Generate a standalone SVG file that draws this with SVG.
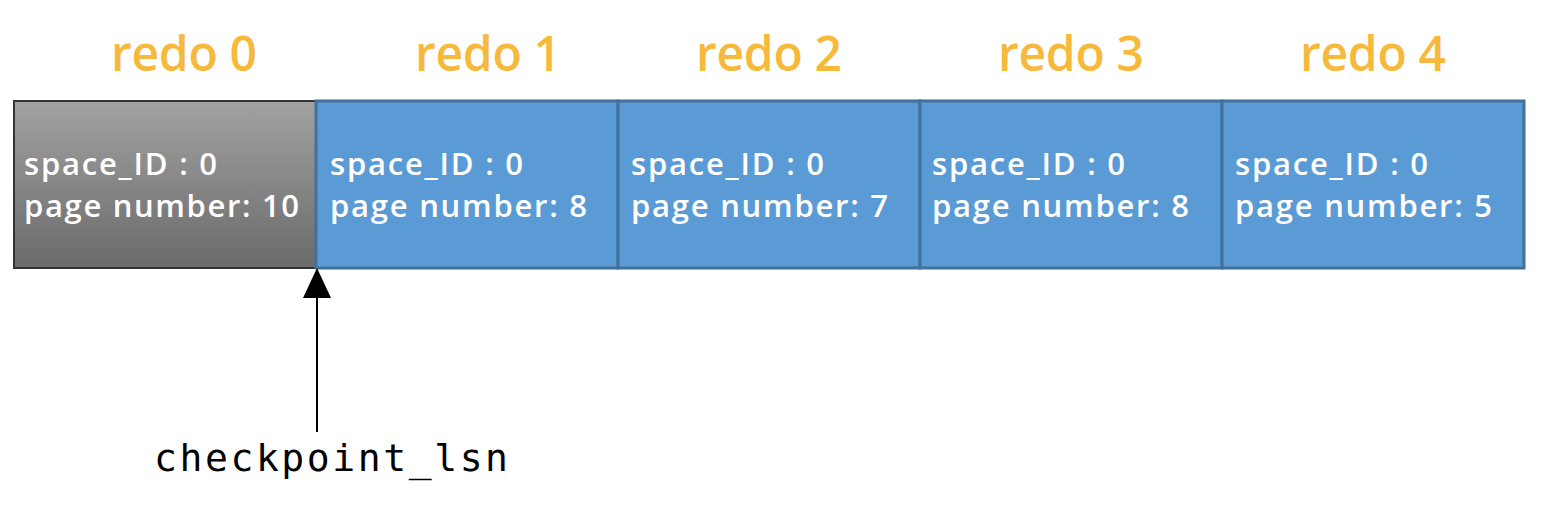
<svg xmlns="http://www.w3.org/2000/svg" width="1562" height="510" viewBox="0 0 1562 510">
<style>
.title{font-family:"Open Sans","Liberation Sans",Arial,sans-serif;font-weight:600;font-size:48px;fill:#f6b93b}
.body{font-family:"Open Sans","Liberation Sans",Arial,sans-serif;font-weight:600;font-size:31px;fill:#ffffff}
.blue{fill:#5b9bd5;stroke:#41719c;stroke-width:3}
.gray{fill:url(#g);stroke:#333333;stroke-width:2}
.lbl{font-family:"DejaVu Sans Mono",monospace;font-size:38px;fill:#000}
</style>
<defs>
<linearGradient id="g" x1="0" y1="0" x2="0" y2="1">
<stop offset="0" stop-color="#a2a2a2"/>
<stop offset="1" stop-color="#6a6a6a"/>
</linearGradient>
</defs>
<g id="titles">
<text class="title" x="184" y="71" text-anchor="middle" textLength="146">redo 0</text>
<text class="title" x="488" y="71" text-anchor="middle" textLength="146">redo 1</text>
<text class="title" x="769" y="71" text-anchor="middle" textLength="146">redo 2</text>
<text class="title" x="1071" y="71" text-anchor="middle" textLength="146">redo 3</text>
<text class="title" x="1373" y="71" text-anchor="middle" textLength="146">redo 4</text>
</g>
<g id="redo0">
<rect class="gray" x="14" y="101" width="302" height="167"/>
<text class="body" x="24" y="175" textLength="193">space_ID : 0</text>
<text class="body" x="24" y="217" textLength="275">page number: 10</text>
</g>
<g id="redo1">
<rect class="blue" x="316" y="101" width="302" height="167"/>
<text class="body" x="330" y="175" textLength="193">space_ID : 0</text>
<text class="body" x="330" y="217" textLength="257">page number: 8</text>
</g>
<g id="redo2">
<rect class="blue" x="618" y="101" width="302" height="167"/>
<text class="body" x="631" y="175" textLength="193">space_ID : 0</text>
<text class="body" x="631" y="217" textLength="257">page number: 7</text>
</g>
<g id="redo3">
<rect class="blue" x="920" y="101" width="302" height="167"/>
<text class="body" x="932" y="175" textLength="193">space_ID : 0</text>
<text class="body" x="932" y="217" textLength="257">page number: 8</text>
</g>
<g id="redo4">
<rect class="blue" x="1222" y="101" width="302" height="167"/>
<text class="body" x="1235" y="175" textLength="193">space_ID : 0</text>
<text class="body" x="1235" y="217" textLength="257">page number: 5</text>
</g>
<g id="connectors">
<line x1="317" y1="432" x2="317" y2="298" stroke="#000" stroke-width="2"/>
<path d="M317,268 L331,298 L303,298 z" fill="#000"/>
</g>
<g id="checkpoint">
<text class="lbl" x="154" y="471" textLength="354" lengthAdjust="spacing">checkpoint_lsn</text>
</g>
</svg>
